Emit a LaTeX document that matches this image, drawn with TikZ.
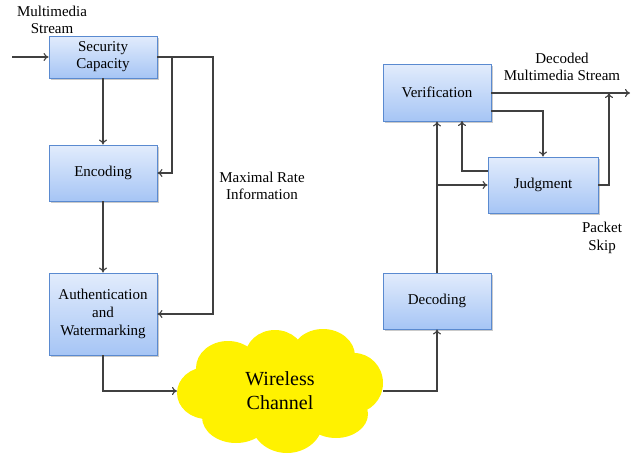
\documentclass[tikz,border=0pt]{standalone}
\usepackage{fontspec}
\setmainfont{Liberation Serif}
\usetikzlibrary{shadows,arrows.meta}
\definecolor{boxtop}{HTML}{E2ECFC}
\definecolor{boxbot}{HTML}{A6C5F5}
\definecolor{boxedge}{HTML}{5A8AD0}
\definecolor{linegray}{HTML}{404040}
\begin{document}
\begin{tikzpicture}[x=1pt,y=-1pt,
  blk/.style={draw=boxedge,line width=0.9pt,top color=boxtop,bottom color=boxbot,
    minimum width=108pt,minimum height=#1,inner sep=0pt,align=center,
    font=\fontsize{15}{18}\selectfont,
    drop shadow={shadow xshift=2pt,shadow yshift=-2pt,fill=black!35,opacity=0.6}},
  blk/.default=56pt,
  lbl/.style={align=center,font=\fontsize{15}{17.5}\selectfont},
  conn/.style={draw=linegray,line width=1.1pt,-{To[length=5pt,width=8pt]}}]
\useasboundingbox (0,0) rectangle (632,453);

% transmitter chain
\node[blk=42pt] (sec) at (103,57) {Security\\[-1pt]Capacity};
\node[blk=56pt] (enc) at (103,173) {Encoding};
\node[blk=82pt] (auth) at (103,314) {Authentication\\and\\Watermarking};

% channel: a cloud built from overlapping puffs
\fill[yellow] (280,390) ellipse [x radius=85pt,y radius=45pt]
  (228,368) ellipse [x radius=32pt,y radius=27pt]
  (275,357) ellipse [x radius=30pt,y radius=27pt]
  (323,356) ellipse [x radius=32pt,y radius=27pt]
  (354,383) ellipse [x radius=29pt,y radius=30pt]
  (336,414) ellipse [x radius=32pt,y radius=24pt]
  (287,421) ellipse [x radius=36pt,y radius=32pt]
  (236,417) ellipse [x radius=34pt,y radius=26pt]
  (207,393) ellipse [x radius=30pt,y radius=26pt];
\node[align=center,font=\fontsize{20}{24}\selectfont] (ch) at (280,391) {Wireless\\Channel};
\coordinate (chW) at (177,391);
\coordinate (chE) at (383,391);

% receiver chain
\node[blk=56pt] (dec) at (437,301) {Decoding};
\node[blk=57pt] (ver) at (437,92.5) {Verification};
\node[blk=56pt,minimum width=110pt] (jud) at (543,185) {Judgment};

% texts
\node[lbl] (instr) at (52,20) {Multimedia\\Stream};
\node[lbl] (mri) at (262,186) {Maximal Rate\\Information};
\node[lbl] (outstr) at (562,67) {Decoded\\Multimedia Stream};
\node[lbl] (skip) at (602,238) {Packet\\Skip};

\coordinate (in) at (12,57);
\coordinate (out) at (630,93);

% transmitter connections
\draw[conn] (in) -- (sec.west);
\draw[conn] (sec) -- (enc);
\draw[conn] (enc) -- (auth);
\draw[conn] (sec.east) -- (172,57) |- (enc.east);
\draw[conn] (sec.east) -- (213,57) |- (auth.east);
\draw[conn] (auth.south) |- (chW);

% receiver connections
\draw[conn] (chE) -| (dec.south);
\draw[conn] (dec.north) -- (ver.south);
\draw[conn] (dec.north |- jud.west) -- (jud.west);
\draw[conn] (jud.west |- 0,171) -| (462,121);
\draw[conn] (ver.east |- 0,111) -| (jud.north);
\draw[conn] (ver.east |- 0,93) -- (out);
\draw[conn] (jud.east) -| (609,93);
\end{tikzpicture}
\end{document}
